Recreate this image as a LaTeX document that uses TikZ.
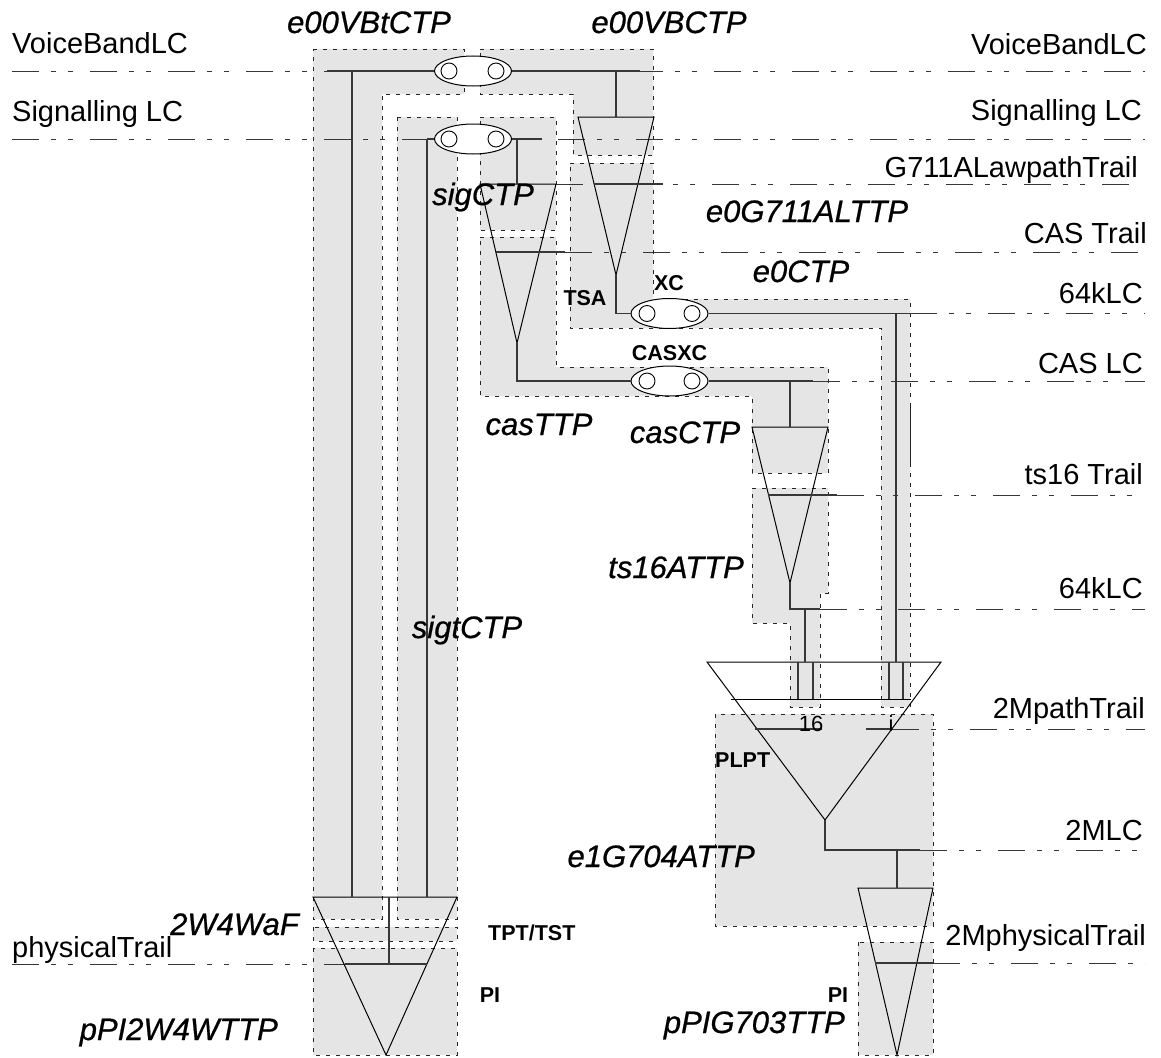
\documentclass[tikz,border=0pt]{standalone}
\usepackage{fontspec}
\setmainfont{Liberation Sans}
\newfontface\hvit{Liberation Sans Italic}[FakeBold=0.7]
\usetikzlibrary{shapes.geometric}
\definecolor{boxgray}{RGB}{229,229,229}
\definecolor{ink}{RGB}{55,55,55}
\begin{document}
\begin{tikzpicture}[x=1pt,y=-1pt,
  gbox/.style={fill=boxgray,draw=black!85,line width=0.8pt,dash pattern=on 4pt off 6pt},
  ddline/.style={draw=ink,line width=0.9pt,dash pattern=on 27pt off 12pt on 5pt off 12pt on 5pt off 17pt},
  conn/.style={draw=ink,line width=1.3pt},
  tri/.style={draw=black,line width=1pt,line join=miter},
  xcell/.style={ellipse,draw=black,line width=1pt,fill=white,minimum width=77pt,minimum height=30pt,inner sep=0pt},
  port/.style={circle,draw=black,line width=0.9pt,fill=white,minimum size=16pt,inner sep=0pt},
  lab/.style={font=\fontsize{29}{34}\selectfont,inner sep=0pt},
  ital/.style={font=\fontsize{31}{36}\hvit,inner sep=0pt},
  bl/.style={font=\fontsize{21.5}{25}\selectfont\bfseries,inner sep=0pt},
  num/.style={font=\fontsize{22}{26}\selectfont,inner sep=0pt}]
\useasboundingbox (0,0) rectangle (1161,1057);
\fill[white] (0,0) rectangle (1161,1057);

% ---------------- gray boxes ----------------
\path[gbox] (313,49) -- (464,49) -- (464,94) -- (382,94) -- (382,919) -- (313,919) -- cycle;
\path[gbox] (480,49) -- (653,49) -- (653,155) -- (573,155) -- (573,94) -- (480,94) -- cycle;
\path[gbox] (397,117) -- (457,117) -- (457,919) -- (397,919) -- cycle;
\path[gbox] (480,117) -- (556,117) -- (556,230) -- (480,230) -- cycle;
\path[gbox] (480,237) -- (556,237) -- (556,367) -- (828,367) -- (828,473) -- (752,473) -- (752,396) -- (480,396) -- cycle;
\path[gbox] (570,163) -- (653,163) -- (653,299) -- (910,299) -- (910,707) -- (881,707) -- (881,328) -- (570,328) -- cycle;
\path[gbox] (752,488) -- (828,488) -- (828,593) -- (820,593) -- (820,707) -- (790,707) -- (790,623) -- (752,623) -- cycle;
\path[gbox] (313,927) rectangle (457,941);
\path[gbox] (313,948) rectangle (457,1055);
\path[gbox] (715,714) rectangle (933,926);
\path[gbox] (858,942) rectangle (933,1055);
\draw[black!85,line width=0.8pt] (910,405) -- (910,463);

% ---------------- layer lines ----------------
\draw[ddline] (12,71) -- (1145,71);
\draw[ddline] (12,139) -- (1145,139);
\draw[ddline] (556,184) -- (1140,184);
\draw[ddline] (565,252) -- (1147,252);
\draw[ddline] (910,313) -- (1145,313);
\draw[ddline] (813,381) -- (1145,381);
\draw[ddline] (837,495) -- (1145,495);
\draw[ddline] (820,609) -- (1145,609);
\draw[ddline] (892,729) -- (1145,729);
\draw[ddline] (920,850) -- (1145,850);
\draw[ddline] (933,963) -- (1145,963);
\draw[ddline] (12,964) -- (345,964);

% ---------------- cross connections ----------------
\node[xcell] (xvb) at (473,71) {};
\node[port] at (449,71) {};
\node[port] at (496,71) {};
\node[xcell] (xsig) at (473,139) {};
\node[port] at (449,139) {};
\node[port] at (496,139) {};
\node[xcell] (xc) at (669.5,313.5) {};
\node[port] at (647,313.5) {};
\node[port] at (692,313.5) {};
\node[xcell] (casxc) at (669.5,381) {};
\node[port] at (647,381) {};
\node[port] at (692,381) {};

% ---------------- triangles ----------------
\draw[tri] (313,897) -- (457,897) -- (386,1055) -- cycle;
\draw[tri] (578,117) -- (654,117) -- (616,275) -- cycle;
\draw[tri] (480,184) -- (556,184) -- (517,343) -- cycle;
\draw[tri] (752,427) -- (828,427) -- (790,583) -- cycle;
\draw[tri] (707,662) -- (941,662) -- (825,820) -- cycle;
\draw[tri] (858,888) -- (933,888) -- (897,1055) -- cycle;

% ---------------- connection lines ----------------
\draw[conn] (327,71) -- (xvb.west);
\draw[conn] (352,71) -- (352,897);
\draw[conn] (xvb.east) -- (640,71);
\draw[conn] (616,71) -- (616,117);
\draw[conn] (427,139) -- (xsig.west);
\draw[conn] (427,139) -- (427,897);
\draw[conn] (xsig.east) -- (542,139);
\draw[conn] (517,139) -- (517,184);
\draw[conn] (594,184) -- (663,184);
\draw[conn] (496,252) -- (565,252);
\draw[conn] (616,275) -- (616,313.5) -- (xc.west);
\draw[conn] (xc.east) -- (910,313.5);
\draw[conn] (896,313.5) -- (896,662);
\draw[conn] (517,343) -- (517,381) -- (casxc.west);
\draw[conn] (casxc.east) -- (813,381);
\draw[conn] (790,381) -- (790,427);
\draw[conn] (768,495) -- (837,495);
\draw[conn] (790,583) -- (790,609) -- (820,609);
\draw[conn] (805,609) -- (805,662);
\draw[conn] (798,662) -- (798,699);
\draw[conn] (813,662) -- (813,699);
\draw[conn] (889,662) -- (889,699);
\draw[conn] (903,662) -- (903,699);
\draw[tri] (731,699) -- (911,699);
\draw[conn] (755,729) -- (822,729);
\draw[conn] (866,729) -- (892,729);
\draw[conn] (825,820) -- (825,850) -- (920,850);
\draw[conn] (897,850) -- (897,888);
\draw[conn] (875,963) -- (933,963);
\draw[conn] (389,897) -- (389,964);
\draw[conn] (345,964) -- (427,964);

% ---------------- layer labels ----------------
\node[lab,anchor=base west] at (12,53) {VoiceBandLC};
\node[lab,anchor=base west] at (12,121) {Signalling LC};
\node[lab,anchor=base west] at (12,957) {physicalTrail};
\node[lab,anchor=base east] at (1147,55) {VoiceBandLC};
\node[lab,anchor=base east] at (1142,120) {Signalling LC};
\node[lab,anchor=base east] at (1138,177) {G711ALawpathTrail};
\node[lab,anchor=base east] at (1147,243) {CAS Trail};
\node[lab,anchor=base east] at (1143,303) {64kLC};
\node[lab,anchor=base east] at (1143,373) {CAS LC};
\node[lab,anchor=base east] at (1143,484) {ts16 Trail};
\node[lab,anchor=base east] at (1143,598) {64kLC};
\node[lab,anchor=base east] at (1145,718) {2MpathTrail};
\node[lab,anchor=base east] at (1143,840) {2MLC};
\node[lab,anchor=base east] at (1146,945) {2MphysicalTrail};

% ---------------- function labels ----------------
\node[ital,anchor=base] at (369,33) {e00VBtCTP};
\node[ital,anchor=base] at (669,33) {e00VBCTP};
\node[ital,anchor=base] at (483,205) {sigCTP};
\node[ital,anchor=base] at (807,222) {e0G711ALTTP};
\node[ital,anchor=base] at (801,282) {e0CTP};
\node[ital,anchor=base] at (539,435) {casTTP};
\node[ital,anchor=base] at (685,443) {casCTP};
\node[ital,anchor=base] at (676,578) {ts16ATTP};
\node[ital,anchor=base] at (467,638) {sigtCTP};
\node[ital,anchor=base east] at (755,867) {e1G704ATTP};
\node[ital,anchor=base west] at (170,935) {2W4WaF};
\node[ital,anchor=base east] at (278,1040) {pPI2W4WTTP};
\node[ital,anchor=base east] at (845,1033) {pPIG703TTP};
\node[bl,anchor=base] at (585,305) {TSA};
\node[bl,anchor=base] at (669,290) {XC};
\node[bl,anchor=base] at (669.5,360) {CASXC};
\node[bl,anchor=base west] at (715,767) {PLPT};
\node[bl,anchor=base west] at (488,940) {TPT/TST};
\node[bl,anchor=base] at (490,1002) {PI};
\node[bl,anchor=base] at (838,1002) {PI};
\node[num,anchor=base] at (811,731) {16};
\node[num,anchor=base] at (891,731) {i};
\end{tikzpicture}
\end{document}
